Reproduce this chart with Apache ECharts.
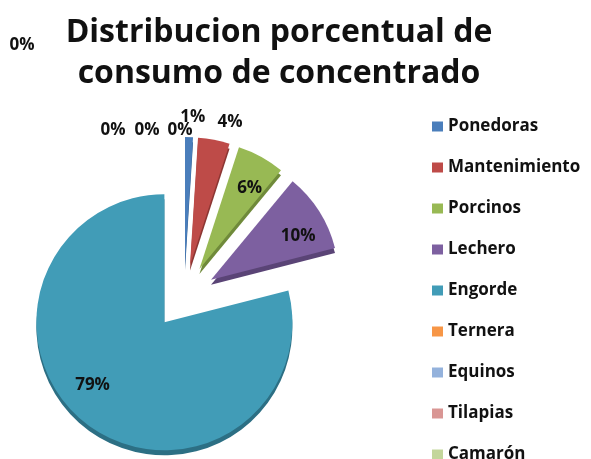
<!DOCTYPE html>
<html>
<head>
<meta charset="utf-8">
<script src="https://cdn.jsdelivr.net/npm/echarts@6/dist/echarts.min.js"></script>
<style>
  html, body { margin: 0; padding: 0; background: #fff; }
  #chart { width: 591px; height: 459px; }
</style>
</head>
<body>
<div id="chart"></div>
<script>
// Consumption of feed concentrate by production line (percent)
const categories = ['Ponedoras', 'Mantenimiento', 'Porcinos', 'Lechero', 'Engorde',
                    'Ternera', 'Equinos', 'Tilapias', 'Camarón'];
const shares = [1, 4, 6, 10, 79, 0, 0, 0, 0];

const colors = ['#4a7ebb', '#be4b48', '#98b954', '#7d60a0', '#419cb7',
                '#f79646', '#94b2dc', '#d99694', '#c3d69b'];
const sideColors = ['#365f8f', '#8c3633', '#6f8a3a', '#5a4476', '#2c6f84',
                    '#b86a2e', '#6b86ab', '#a76e6c', '#93a772'];

// Pie geometry
const CENTER = [184, 297];
const RADIUS = 128;
const EXPLODE = 32;

// Mid angle (radians, clockwise from 12 o'clock) of each slice
const total = shares.reduce((a, b) => a + b, 0);
let acc = 0;
const midAngles = shares.map(v => {
  const m = (acc + v / 2) / total * Math.PI * 2;
  acc += v;
  return m;
});

// Small label nudges to reproduce the hand-placed data labels
const labelNudge = [[3, 2], [12, 4], [4, 3], [6, 8], [-13, -13],
                    [-4, 15], [-37, 15], [-71, 15], [-162, -70]];

const FONT = '"Open Sans", "Noto Sans", sans-serif';

const chart = echarts.init(document.getElementById('chart'), null, { renderer: 'canvas' });

chart.setOption({
  animation: false,
  backgroundColor: '#ffffff',
  title: {
    text: 'Distribucion porcentual de\nconsumo de concentrado',
    left: 274,
    top: 7,
    textAlign: 'center',
    textStyle: {
      fontFamily: FONT,
      fontSize: 32,
      fontWeight: 'bold',
      color: '#111',
      lineHeight: 41
    }
  },
  legend: {
    orient: 'vertical',
    left: 427,
    top: 113,
    height: 430,
    itemWidth: 11,
    itemHeight: 10,
    itemGap: 24,
    selectedMode: false,
    icon: 'rect',
    textStyle: {
      fontFamily: FONT,
      fontSize: 17,
      fontWeight: 'bold',
      color: '#111'
    },
    data: categories
  },
  series: [
    // Exploded slices with a darker lower rim
    {
      type: 'pie',
      center: CENTER,
      radius: RADIUS,
      startAngle: 90,
      clockwise: true,
      selectedMode: 'multiple',
      selectedOffset: EXPLODE,
      emphasis: { disabled: true },
      itemStyle: {
        borderWidth: 0,
        shadowBlur: 0,
        shadowOffsetX: 0,
        shadowOffsetY: 5
      },
      label: { show: false },
      labelLine: { show: false },
      data: categories.map((name, i) => ({
        name: name,
        value: shares[i],
        selected: true,
        itemStyle: { color: colors[i], shadowColor: sideColors[i] }
      }))
    },
    // Transparent copy carrying the percentage labels
    {
      type: 'pie',
      center: CENTER,
      radius: RADIUS,
      startAngle: 90,
      clockwise: true,
      silent: true,
      z: 5,
      avoidLabelOverlap: false,
      itemStyle: { color: 'rgba(0,0,0,0)', borderWidth: 0 },
      label: {
        show: true,
        formatter: p => shares[p.dataIndex] + '%',
        fontFamily: FONT,
        fontSize: 17,
        fontWeight: 'bold',
        color: '#111'
      },
      labelLine: { show: false },
      labelLayout: function (p) {
        const i = p.dataIndex;
        const a = midAngles[i];
        const ux = Math.sin(a), uy = -Math.cos(a);
        const cx = CENTER[0] + EXPLODE * ux;
        const cy = CENTER[1] + EXPLODE * uy;
        const k = shares[i] >= 6 ? 0.75 : 1.17;
        const n = labelNudge[i];
        return {
          x: cx + k * RADIUS * ux + n[0],
          y: cy + k * RADIUS * uy + n[1],
          align: 'center',
          verticalAlign: 'middle'
        };
      },
      data: categories.map((name, i) => ({ name: name, value: shares[i] }))
    }
  ]
});
</script>
</body>
</html>
